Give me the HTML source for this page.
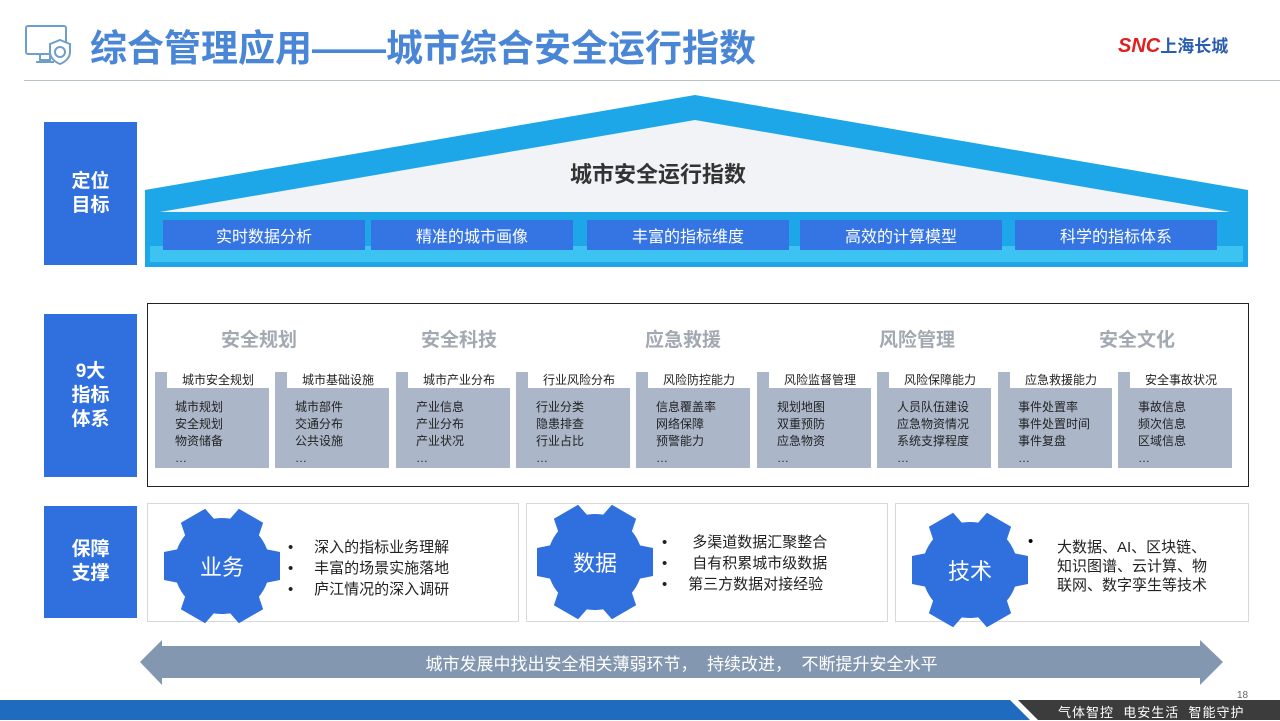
<!DOCTYPE html><html><head><meta charset="utf-8"><style>
body{margin:0;width:1280px;height:720px;position:relative;overflow:hidden;background:#fff;font-family:"Liberation Sans","Noto Sans CJK SC",sans-serif}
.a{position:absolute}
.lab{position:absolute;left:44px;width:93px;background:#2f6fde;color:#fff;font-weight:bold;font-size:19px;line-height:24px;display:flex;align-items:center;justify-content:center;text-align:center}
.kb{position:absolute;top:220px;height:30px;background:#3574e3;color:#fff;font-size:16px;display:flex;align-items:center;justify-content:center;width:202px}
.cat{position:absolute;top:325px;font-size:19px;font-weight:bold;color:#a3a9b2}
.col{position:absolute;top:372px;width:114px;height:96px;background:#abb7c9}
.col .t{position:absolute;left:12px;right:0;top:0;height:16px;background:#fff;font-size:12px;text-align:center;line-height:16px;color:#222}
.col .b{position:absolute;left:20px;top:27px;font-size:12px;line-height:17px;color:#222}
.pan{position:absolute;top:503px;height:117px;border:1px solid #d8d8d8}
.ul{position:absolute;font-size:15px;line-height:21px;color:#222}
</style></head><body>
<svg class="a" style="left:24px;top:22px" width="52" height="46" viewBox="0 0 52 46" fill="none" stroke="#6f9fc8" stroke-width="2"><rect x="2" y="4" width="40" height="28" rx="2"/><path d="M16 32v6h10v-6M12 40h18"/><path d="M36 18l10 4v8c0 6-5 10-10 12c-5-2-10-6-10-12v-8z" fill="#fff"/><circle cx="36" cy="30" r="5"/></svg>
<div class="a" style="left:90px;top:18px;font-size:37px;font-weight:bold;color:#4a86d6">综合管理应用——城市综合安全运行指数</div>
<div class="a" style="left:24px;top:80px;width:1256px;height:1px;background:#b8c0c8"></div>
<div class="a" style="left:1118px;top:32px;font-size:20px;font-weight:bold;color:#e02020;font-style:italic">SNC<span style="font-size:17px;color:#2a5cb0;font-style:normal">上海长城</span></div>

<div class="lab" style="top:122px;height:143px">定位<br>目标</div>
<div class="lab" style="top:314px;height:163px">9大<br>指标<br>体系</div>
<div class="lab" style="top:506px;height:112px">保障<br>支撑</div>

<svg class="a" style="left:0;top:0" width="1280" height="280">
<polygon points="145,190 695,95 1248,190 1248,267 145,267" fill="#1ea7e8"/>
<polygon points="160,212 695,120 1230,212" fill="#f1f3f6"/>
<rect x="145" y="212" width="1103" height="55" fill="#1ea7e8"/>
<rect x="150" y="246" width="1093" height="16" fill="#3dc3f2"/>
</svg>
<div class="a" style="left:570px;top:157px;font-size:22px;font-weight:bold;color:#333">城市安全运行指数</div>
<div class="kb" style="left:163px">实时数据分析</div>
<div class="kb" style="left:371px">精准的城市画像</div>
<div class="kb" style="left:587px">丰富的指标维度</div>
<div class="kb" style="left:800px">高效的计算模型</div>
<div class="kb" style="left:1015px">科学的指标体系</div>

<div class="a" style="left:147px;top:303px;width:1100px;height:182px;border:1px solid #222"></div>
<div class="cat" style="left:221px">安全规划</div>
<div class="cat" style="left:421px">安全科技</div>
<div class="cat" style="left:645px">应急救援</div>
<div class="cat" style="left:879px">风险管理</div>
<div class="cat" style="left:1099px">安全文化</div>

<div class="col" style="left:155px"><div class="t">城市安全规划</div><div class="b">城市规划<br>安全规划<br>物资储备<br>…</div></div>
<div class="col" style="left:275px"><div class="t">城市基础设施</div><div class="b">城市部件<br>交通分布<br>公共设施<br>…</div></div>
<div class="col" style="left:396px"><div class="t">城市产业分布</div><div class="b">产业信息<br>产业分布<br>产业状况<br>…</div></div>
<div class="col" style="left:516px"><div class="t">行业风险分布</div><div class="b">行业分类<br>隐患排查<br>行业占比<br>…</div></div>
<div class="col" style="left:636px"><div class="t">风险防控能力</div><div class="b">信息覆盖率<br>网络保障<br>预警能力<br>…</div></div>
<div class="col" style="left:757px"><div class="t">风险监督管理</div><div class="b">规划地图<br>双重预防<br>应急物资<br>…</div></div>
<div class="col" style="left:877px"><div class="t">风险保障能力</div><div class="b">人员队伍建设<br>应急物资情况<br>系统支撑程度<br>…</div></div>
<div class="col" style="left:998px"><div class="t">应急救援能力</div><div class="b">事件处置率<br>事件处置时间<br>事件复盘<br>…</div></div>
<div class="col" style="left:1118px"><div class="t">安全事故状况</div><div class="b">事故信息<br>频次信息<br>区域信息<br>…</div></div>

<div class="pan" style="left:147px;width:370px"></div>
<div class="pan" style="left:526px;width:360px"></div>
<div class="pan" style="left:895px;width:352px"></div>

<svg class="a" style="left:0;top:500px" width="1280" height="130">
<defs><g id="g"><circle r="48" fill="#2f6fde"/>
<g fill="#2f6fde"><polygon points="-14,-58 14,-58 18,-38 -18,-38"/><polygon points="-14,-58 14,-58 18,-38 -18,-38" transform="rotate(60)"/><polygon points="-14,-58 14,-58 18,-38 -18,-38" transform="rotate(120)"/><polygon points="-14,-58 14,-58 18,-38 -18,-38" transform="rotate(180)"/><polygon points="-14,-58 14,-58 18,-38 -18,-38" transform="rotate(240)"/><polygon points="-14,-58 14,-58 18,-38 -18,-38" transform="rotate(300)"/></g></g></defs>
<use href="#g" transform="translate(222,66) rotate(30)"/>
<use href="#g" transform="translate(595,62) rotate(30)"/>
<use href="#g" transform="translate(970,70) rotate(30)"/>
<text x="222" y="75" font-size="22" fill="#fff" text-anchor="middle" font-family="Liberation Sans,Noto Sans CJK SC,sans-serif">业务</text>
<text x="595" y="71" font-size="22" fill="#fff" text-anchor="middle" font-family="Liberation Sans,Noto Sans CJK SC,sans-serif">数据</text>
<text x="970" y="79" font-size="22" fill="#fff" text-anchor="middle" font-family="Liberation Sans,Noto Sans CJK SC,sans-serif">技术</text>
</svg>
<div class="ul" style="left:288px;top:537px">•&nbsp;&nbsp;&nbsp;&nbsp;&nbsp;深入的指标业务理解<br>•&nbsp;&nbsp;&nbsp;&nbsp;&nbsp;丰富的场景实施落地<br>•&nbsp;&nbsp;&nbsp;&nbsp;&nbsp;庐江情况的深入调研</div>
<div class="ul" style="left:662px;top:532px;line-height:21px">•&nbsp;&nbsp;&nbsp;&nbsp;&nbsp;&nbsp;多渠道数据汇聚整合<br>•&nbsp;&nbsp;&nbsp;&nbsp;&nbsp;&nbsp;自有积累城市级数据<br>•&nbsp;&nbsp;&nbsp;&nbsp;&nbsp;第三方数据对接经验</div>
<div class="a" style="left:1028px;top:533px;font-size:15px">•</div>
<div class="ul" style="left:1057px;top:538px;line-height:19px">大数据、AI、区块链、<br>知识图谱、云计算、物<br>联网、数字孪生等技术</div>

<svg class="a" style="left:140px;top:640px" width="1090" height="46"><polygon points="0,22 22,0 22,6 1060,6 1060,0 1083,22 1060,45 1060,38 22,38 22,45" fill="#8497b0"/></svg>
<div class="a" style="left:140px;top:650px;width:1083px;text-align:center;font-size:17px;color:#fff">城市发展中找出安全相关薄弱环节，&nbsp;&nbsp;持续改进，&nbsp;&nbsp;不断提升安全水平</div>

<div class="a" style="left:0;top:700px;width:1280px;height:20px;background:#3c3c3c"></div>
<svg class="a" style="left:0;top:700px" width="1280" height="20"><polygon points="0,0 1010,0 1030,20 0,20" fill="#1f6bbf"/><polygon points="1010,0 1018,0 1038,20 1030,20" fill="#fff"/></svg>
<div class="a" style="left:1237px;top:690px;font-size:10px;color:#666">18</div>
<div class="a" style="left:1058px;top:702px;font-size:13px;color:#fff;letter-spacing:1px">气体智控&nbsp;&nbsp;电安生活&nbsp;&nbsp;智能守护</div>
</body></html>
